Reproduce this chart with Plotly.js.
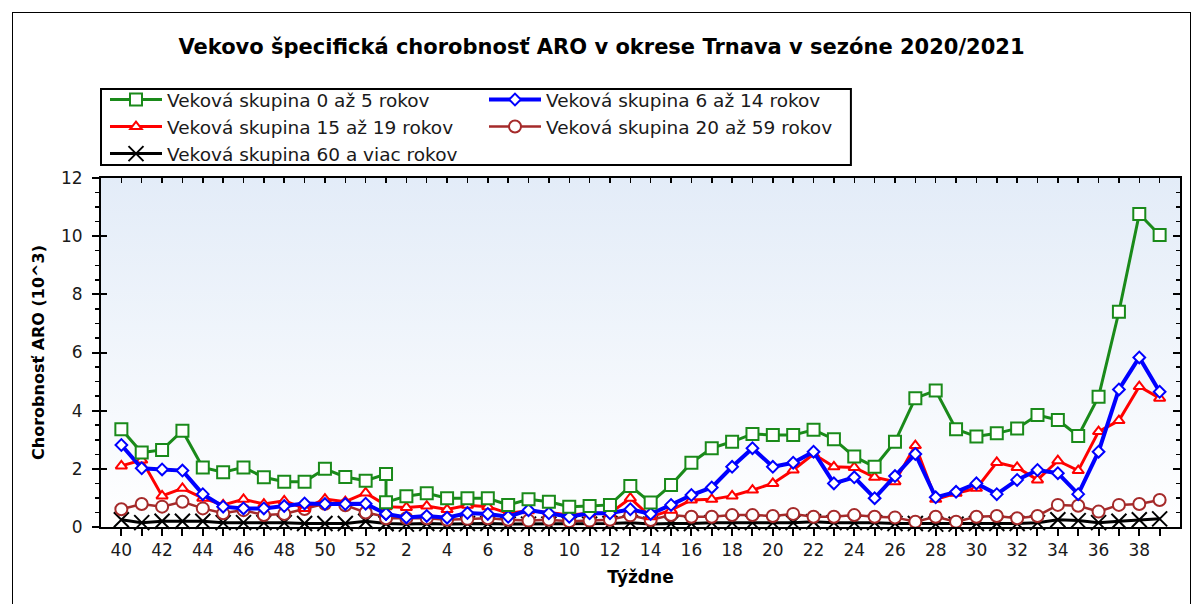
<!DOCTYPE html>
<html>
<head>
<meta charset="utf-8">
<script src="https://cdn.plot.ly/plotly-3.0.1.min.js"></script>
<style>
  html, body { margin: 0; padding: 0; background: #ffffff; width: 1194px; height: 604px; overflow: hidden; }
  #wrap { position: absolute; left: 12px; top: 12px; width: 1177px; height: 600px;
          border-left: 1px solid #000; border-top: 1px solid #000; border-right: 1px solid #000; background: #fff; }
  #chart { width: 1177px; height: 591px; }
</style>
</head>
<body>
<div id="wrap"><div id="chart"></div></div>
<script>
// Week labels in the order of the season (week 53 and week 1 share one slot on the axis)
const weeks = [40,41,42,43,44,45,46,47,48,49,50,51,52,53,
  1,2,3,4,5,6,7,8,9,10,11,12,13,14,15,16,17,18,19,20,21,22,23,24,25,26,27,28,29,30,31,32,33,34,35,36,37,38,39];

const seriesNames = [
  "Veková skupina 0 až 5 rokov",
  "Veková skupina 6 až 14 rokov",
  "Veková skupina 15 až 19 rokov",
  "Veková skupina 20 až 59 rokov",
  "Veková skupina 60 a viac rokov"
];

const age0to5 = [3.36,2.56,2.65,3.31,2.05,1.88,2.05,1.71,1.56,1.56,2.00,1.72,1.59,1.82,
  0.85,1.06,1.16,0.99,0.99,0.99,0.76,0.95,0.87,0.70,0.72,0.76,1.41,0.84,1.44,2.21,2.71,2.93,3.20,3.16,
  3.16,3.34,3.02,2.42,2.07,2.93,4.43,4.69,3.36,3.11,3.22,3.39,3.85,3.68,3.13,4.48,7.40,10.76,10.04];

const age6to14 = [2.82,2.02,1.98,1.94,1.13,0.70,0.64,0.64,0.72,0.81,0.79,0.79,0.80,0.45,
  0.45,0.33,0.38,0.32,0.48,0.45,0.35,0.58,0.47,0.35,0.47,0.47,0.61,0.45,0.76,1.10,1.36,2.07,2.71,2.07,
  2.21,2.59,1.50,1.71,0.99,1.75,2.51,1.02,1.21,1.50,1.13,1.62,1.96,1.85,1.13,2.59,4.73,5.83,4.65];

const age15to19 = [2.10,2.30,1.07,1.33,0.99,0.76,0.95,0.79,0.90,0.64,0.96,0.87,1.17,0.75,
  0.70,0.67,0.72,0.60,0.75,0.70,0.47,0.56,0.50,0.41,0.47,0.47,0.99,0.35,0.58,0.93,0.95,1.07,1.27,1.50,
  1.96,2.51,2.07,2.05,1.71,1.56,2.80,0.95,1.16,1.33,2.22,2.05,1.62,2.28,1.94,3.28,3.66,4.83,4.43];

const age20to59 = [0.61,0.79,0.70,0.87,0.64,0.47,0.58,0.41,0.45,0.62,0.80,0.75,0.50,0.35,
  0.30,0.30,0.30,0.25,0.28,0.30,0.25,0.22,0.25,0.20,0.22,0.25,0.40,0.24,0.41,0.35,0.35,0.41,0.41,0.38,
  0.45,0.35,0.35,0.41,0.35,0.33,0.18,0.35,0.18,0.35,0.38,0.30,0.38,0.76,0.73,0.53,0.76,0.79,0.93];

const age60plus = [0.25,0.15,0.20,0.20,0.20,0.15,0.15,0.15,0.15,0.12,0.12,0.12,0.20,0.12,
  0.12,0.10,0.12,0.10,0.12,0.12,0.10,0.10,0.10,0.10,0.10,0.12,0.15,0.10,0.12,0.12,0.15,0.15,0.15,0.15,
  0.15,0.18,0.15,0.15,0.15,0.12,0.12,0.10,0.10,0.12,0.12,0.12,0.15,0.25,0.22,0.15,0.20,0.25,0.28];

// axis slot of each week: 40..52 -> 0..12, week 53 and week 1 -> 13, week n -> n+12
const slot = weeks.map(w => (w >= 40 ? w - 40 : w + 12));
const nSlots = 52;
const tickVals = [];
const tickText = [];
for (let p = 0; p < nSlots; p++) {
  tickVals.push(p);
  const wk = p <= 12 ? 40 + p : p - 12;
  tickText.push(p % 2 === 0 ? String(wk) : "");
}

const FONT = "DejaVu Sans, Verdana, sans-serif";

function mk(name, y, color, symbol, size, lw, mlw, rank) {
  return {
    type: "scatter", mode: "lines+markers", name: name,
    x: slot, y: y, legendrank: rank, cliponaxis: false,
    line: { color: color, width: lw },
    marker: { symbol: symbol, size: size, color: symbol === "x-thin" ? color : "#ffffff",
              line: { color: color, width: mlw } }
  };
}

const data = [
  mk(seriesNames[4], age60plus, "#000000", "x-thin", 15, 3, 2, 5),
  mk(seriesNames[3], age20to59, "#a52a2a", "circle", 12, 2.5, 2, 4),
  mk(seriesNames[2], age15to19, "#ff0000", "triangle-up", 10, 3, 2, 3),
  mk(seriesNames[1], age6to14, "#0000ff", "diamond", 9, 4, 2, 2),
  mk(seriesNames[0], age0to5, "#1a8a1a", "square", 12, 3, 2, 1),
  { type: "scatter", x: [], y: [], xaxis: "x2", yaxis: "y2", showlegend: false, hoverinfo: "skip" },
  { type: "scatter", x: [], y: [], xaxis: "x", yaxis: "y3", showlegend: false, hoverinfo: "skip" }
];

const bgSvg = "<svg xmlns='http://www.w3.org/2000/svg' width='10' height='10' viewBox='0 0 10 10' preserveAspectRatio='none'>" +
  "<defs><linearGradient id='g' x1='0' y1='0' x2='0' y2='1'><stop offset='0' stop-color='#e3ecf8'/>" +
  "<stop offset='1' stop-color='#ffffff'/></linearGradient></defs><rect width='10' height='10' fill='url(#g)'/></svg>";

const layout = {
  width: 1177, height: 591,
  margin: { l: 88, r: 10, t: 165, b: 77 },
  paper_bgcolor: "rgba(0,0,0,0)",
  plot_bgcolor: "rgba(0,0,0,0)",
  font: { family: FONT, color: "#000000" },
  title: {
    text: "<b>Vekovo špecifická chorobnosť ARO v okrese Trnava v sezóne 2020/2021</b>",
    font: { family: FONT, size: 21, color: "#000000" },
    xref: "container", x: 0.5, xanchor: "center",
    yref: "container", y: 1 - 34 / 591, yanchor: "middle"
  },
  showlegend: true,
  legend: {
    orientation: "h", x: 0.0037, xanchor: "left", y: 1.278, yanchor: "top",
    bgcolor: "rgba(0,0,0,0)", borderwidth: 0,
    font: { family: FONT, size: 18.5, color: "#1a1a1a" },
    entrywidth: 312, itemwidth: 52, traceorder: "normal"
  },
  shapes: [{
    type: "rect", xref: "paper", yref: "paper",
    x0: 0, x1: 0.695, y0: 1.037, y1: 1.255,
    fillcolor: "#ffffff", line: { color: "#000000", width: 2 }, layer: "below"
  }],
  images: [{
    source: "data:image/svg+xml;charset=utf-8," + encodeURIComponent(bgSvg),
    xref: "paper", yref: "paper", x: 0, y: 1, sizex: 1, sizey: 1,
    xanchor: "left", yanchor: "top", sizing: "stretch", layer: "below"
  }],
  xaxis: {
    type: "linear", range: [-1, 52], fixedrange: true,
    tickmode: "array", tickvals: tickVals, ticktext: tickText,
    ticks: "outside", ticklen: 7, tickwidth: 2, tickcolor: "#000",
    showline: true, linewidth: 2, linecolor: "#000", mirror: true,
    showgrid: false, zeroline: false,
    tickfont: { family: FONT, size: 17, color: "#1a1a1a" },
    title: { text: "<b>Týždne</b>", font: { family: FONT, size: 17, color: "#000" }, standoff: 12 }
  },
  xaxis2: {
    type: "linear", range: [-1, 52], overlaying: "x", side: "top", anchor: "y",
    tickmode: "linear", tick0: 0, dtick: 1, ticks: "inside", ticklen: 5, tickwidth: 1.5, tickcolor: "#000",
    showticklabels: false, showline: false, showgrid: false, zeroline: false
  },
  yaxis: {
    range: [0, 12], tickmode: "linear", tick0: 0, dtick: 2,
    ticks: "outside", ticklen: 7, tickwidth: 2, tickcolor: "#000",
    minor: { dtick: 0.5, ticks: "outside", ticklen: 4, tickwidth: 1.5, tickcolor: "#000" },
    showline: true, linewidth: 2, linecolor: "#000", mirror: true,
    showgrid: false, zeroline: false, ticklabelstandoff: 6,
    tickfont: { family: FONT, size: 17, color: "#1a1a1a" },
    title: { text: "<b>Chorobnosť ARO (10^3)</b>", font: { family: FONT, size: 16, color: "#000" }, standoff: 12 }
  },
  yaxis2: {
    range: [0, 12], overlaying: "y", side: "right", anchor: "x",
    tickmode: "linear", tick0: 0, dtick: 2, ticks: "inside", ticklen: 7, tickwidth: 2, tickcolor: "#000",
    minor: { dtick: 0.5, ticks: "inside", ticklen: 4, tickwidth: 1.5, tickcolor: "#000" },
    showticklabels: false, showline: false, showgrid: false, zeroline: false
  },
  yaxis3: {
    range: [0, 12], overlaying: "y", side: "left", anchor: "x",
    tickmode: "linear", tick0: 0, dtick: 2, ticks: "inside", ticklen: 6, tickwidth: 2, tickcolor: "#000",
    showticklabels: false, showline: false, showgrid: false, zeroline: false
  }
};

Plotly.newPlot("chart", data, layout, { staticPlot: true, displayModeBar: false });
</script>
</body>
</html>
